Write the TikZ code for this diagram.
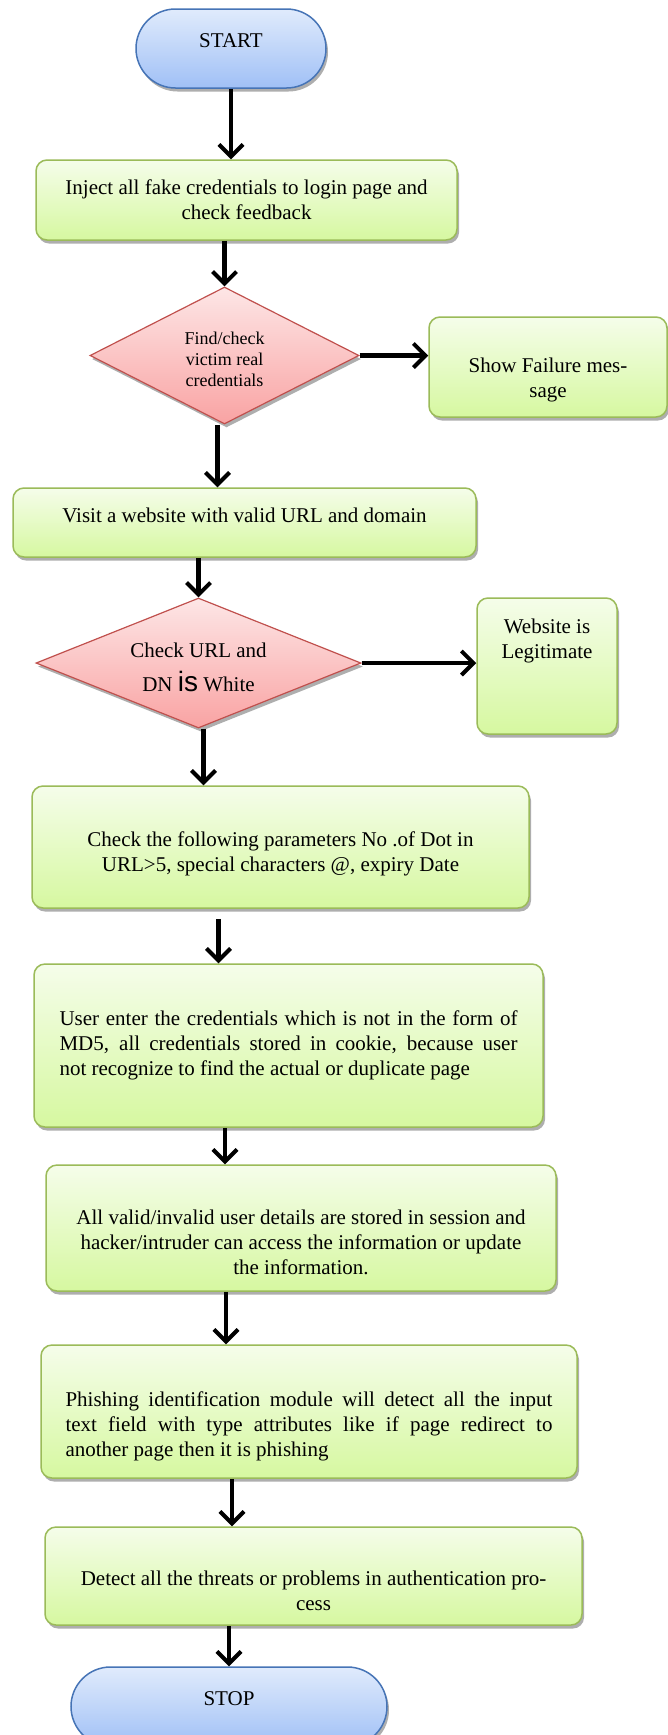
\documentclass[tikz,border=0pt]{standalone}
\usepackage{fontspec}
\setmainfont{Liberation Serif}
\newfontfamily\sansis{Liberation Sans}
\usetikzlibrary{shapes.geometric,shapes.misc,arrows.meta,shadows,calc}
\definecolor{gborder}{RGB}{155,187,89}
\definecolor{gtop}{RGB}{245,253,234}
\definecolor{gbot}{RGB}{214,248,160}
\definecolor{bborder}{RGB}{70,116,182}
\definecolor{btop}{RGB}{224,235,252}
\definecolor{bbot}{RGB}{160,192,246}
\definecolor{rborder}{RGB}{192,80,77}
\definecolor{rtop}{RGB}{253,230,230}
\definecolor{rbot}{RGB}{249,163,163}
\newcommand\dnstrut[1]{\rule{0pt}{#1}}
\begin{document}
\begin{tikzpicture}[x=1pt,y=-1pt,
  font=\fontsize{21pt}{25pt}\selectfont,
  shd/.style={drop shadow={shadow xshift=2pt,shadow yshift=-3.5pt,fill=black!45,opacity=0.7}},
  procbox/.style={draw=gborder,line width=1.5pt,rounded corners=11pt,top color=gtop,bottom color=gbot,shd,inner sep=0pt,align=center},
  term/.style={draw=bborder,line width=1.5pt,rounded rectangle,top color=btop,bottom color=bbot,shd,inner sep=0pt},
  decision/.style={draw=rborder,line width=1.2pt,diamond,top color=rtop,bottom color=rbot,shd,inner sep=0pt,align=center},
  arr/.style={line width=4.5pt,-{Straight Barb[length=12pt,width=24pt,line width=4pt]}},
]
\fill[white] (0,0) rectangle (668,1735);
\useasboundingbox (0,0) rectangle (668,1735);
\clip (0,0) rectangle (668,1735);

\node[term,minimum width=190pt,minimum height=79pt,text depth=16pt] (start) at (231,48.5) {START};
\node[procbox,minimum width=421pt,minimum height=80pt] (inject) at (246.5,200) {Inject all fake credentials to login page and\\check feedback};
\node[decision,aspect=1.96,minimum width=269pt,minimum height=137pt,font=\fontsize{18pt}{21pt}\selectfont] (d1) at (224.5,355.5) {\dnstrut{20.5pt}Find/check\\victim real\\credentials};
\node[procbox,minimum width=238pt,minimum height=100pt] (fail) at (548,367) {\dnstrut{40pt}Show Failure mes-\\sage};
\node[procbox,minimum width=463pt,minimum height=69pt,text depth=14pt] (visit) at (244.5,522.5) {Visit a website with valid URL and domain};
\node[decision,aspect=2.5,minimum width=325pt,minimum height=130pt] (d2) at (198.5,663) {\dnstrut{23pt}Check URL and\\[9pt]DN {\sansis\fontsize{28pt}{28pt}\selectfont is} White};
\node[procbox,minimum width=140pt,minimum height=136pt,
  label={[anchor=north,align=center,inner sep=0pt,yshift=-21pt]north:Website is\\Legitimate}] (legit) at (547,666) {};
\node[procbox,minimum width=497pt,minimum height=122pt] (check) at (280.5,847) {\dnstrut{28.5pt}Check the following parameters No .of Dot in\\URL>5, special characters @, expiry Date};
\node[procbox,minimum width=509pt,minimum height=163pt,text width=458pt,align=justify] (user) at (288.5,1045.5) {User enter the credentials which is not in the form of\linebreak MD5, all credentials stored in cookie, because user\linebreak not recognize to find the actual or duplicate page};
\node[procbox,minimum width=510pt,minimum height=126pt] (valid) at (301,1228) {\dnstrut{42.5pt}All valid/invalid user details are stored in session and\\hacker/intruder can access the information or update\\the information.};
\node[procbox,minimum width=536pt,minimum height=133pt,text width=487pt,align=justify] (phish) at (309,1411.5) {\dnstrut{44.5pt}Phishing identification module will detect all the input\linebreak text field with type attributes like if page redirect to\linebreak another page then it is phishing};
\node[procbox,minimum width=537pt,minimum height=98pt] (detect) at (313.5,1576) {\dnstrut{44.5pt}Detect all the threats or problems in authentication pro-\\cess};
\node[term,minimum width=316pt,minimum height=79pt,text depth=16pt] (stop) at (229,1706.5) {STOP};

\draw[arr] (start.south) -- (start.south |- inject.north);
\draw[arr] (d1.north |- inject.south) -- (d1.north);
\draw[arr] (d1.east) -- (d1.east -| fail.west);
\coordinate (a1) at ($(d1.south)+(-7,0)$);
\draw[arr] (a1) -- (a1 |- visit.north);
\draw[arr] (d2.north |- visit.south) -- (d2.north);
\draw[arr] (d2.east) -- (d2.east -| legit.west);
\coordinate (a2) at ($(d2.south)+(5,0)$);
\draw[arr] (a2) -- (a2 |- check.north);
\coordinate (a3) at ($(user.north)+(-70,0)$);
\coordinate (a3s) at ($(check.south)+(0,10)$);
\draw[arr] (a3 |- a3s) -- (a3);
\coordinate (a4) at ($(user.south)+(-63.5,0)$);
\draw[arr] (a4) -- (a4 |- valid.north);
\coordinate (a5) at ($(valid.south)+(-75,0)$);
\draw[arr] (a5) -- (a5 |- phish.north);
\coordinate (a6) at ($(phish.south)+(-77,0)$);
\draw[arr] (a6) -- (a6 |- detect.north);
\draw[arr] (stop.north |- detect.south) -- (stop.north);
\end{tikzpicture}
\end{document}
